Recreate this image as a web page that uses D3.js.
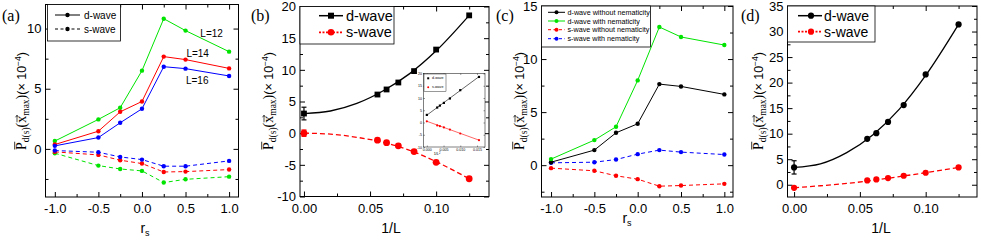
<!DOCTYPE html>
<html>
<head>
<meta charset="utf-8">
<script src="https://cdn.jsdelivr.net/npm/d3@7"></script>
<style>
body { margin: 0; background: #fff; }
svg text { font-family: "Liberation Sans", Arial, sans-serif; fill: #000; }
svg .serif { font-family: "Liberation Serif", "Times New Roman", serif; }
.axis text { font-size: 13px; }
.inset .axis text { font-size: 3.6px; }
</style>
</head>
<body>
<svg id="chart" width="981" height="244"></svg>
<script>
// ---- data ----
const rs = [-1.0, -0.5, -0.25, 0.0, 0.25, 0.5, 1.0];
const rsTicks = [-1.0, -0.5, 0.0, 0.5, 1.0];
const rsMinor = [-0.75, -0.25, 0.25, 0.75];

// (a) d-wave / s-wave vs r_s for three sizes
const aDwaveL12 = [0.65, 2.45, 3.42, 6.5, 10.82, 9.83, 8.08];
const aDwaveL14 = [0.36, 1.47, 3.08, 3.94, 7.67, 7.42, 6.69];
const aDwaveL16 = [0.25, 0.94, 2.17, 3.33, 6.83, 6.67, 6.06];
const aSwaveL12 = [-0.36, -1.39, -1.67, -1.83, -2.8, -2.53, -2.31];
const aSwaveL14 = [-0.25, -0.5, -0.94, -1.22, -1.92, -1.89, -1.72];
const aSwaveL16 = [-0.14, -0.28, -0.67, -0.89, -1.44, -1.44, -1.0];
const aSizeLabels = ["L=12", "L=14", "L=16"];
const aLabelPos = [[0.67, 9.55], [0.51, 7.89], [0.505, 5.69]];
const aYTicks = [0, 5, 10];
const aYMinor = [-2.5, 2.5, 7.5];

// (b), (d) vs 1/L
const invL = [0, 0.0556, 0.0625, 0.0714, 0.0833, 0.1, 0.125];
const invLTicks = [0, 0.05, 0.10];
const invLMinor = [0.025, 0.075, 0.125];
const bDwave = [3.1, 6.1, 6.9, 8.0, 9.8, 13.2, 18.6];
const bSwave = [0.0, -1.1, -1.5, -2.0, -2.9, -4.6, -7.2];
const bDwaveErr = 1.0;
const bSwaveErr = 0.5;
const bFitX = [0, 0.02, 0.04, 0.06, 0.08, 0.1, 0.125];
const bDwaveFit = [3.1, 3.5, 4.7, 6.7, 9.4, 13.0, 18.6];
const bSwaveFit = [0.0, -0.15, -0.65, -1.45, -2.7, -4.5, -7.2];
const bYTicks = [-10, -5, 0, 5, 10, 15, 20];
const bYMinor = [-7.5, -2.5, 2.5, 7.5, 12.5, 17.5];

// (b) inset vs 1/L^2
const invL2 = [0, 0.0031, 0.0039, 0.0051, 0.0069, 0.01, 0.0156];
const insetSwave = [0.5, -1.2, -1.5, -2.0, -2.9, -4.5, -7.2];
const insetFitX = [0, 0.0156];
const insetDwaveFit = [3.0, 18.7];
const insetSwaveFit = [0.5, -7.2];
const insetXTicks = [0, 0.005, 0.010, 0.015];
const insetYTicks = [-10, -5, 0, 5, 10, 15, 20];

// (c) with / without nematicity
const cDwaveNoNem = [0.28, 1.42, 3.05, 3.9, 7.64, 7.42, 6.67];
const cDwaveNem = [0.57, 2.36, 3.62, 7.99, 13.02, 12.08, 11.32];
const cSwaveNoNem = [-0.28, -0.53, -1.0, -1.32, -1.98, -1.92, -1.76];
const cSwaveNem = [0.22, 0.28, 0.53, 1.04, 1.42, 1.23, 1.0];
const cYTicks = [0, 5, 10, 15];
const cYMinor = [-2.5, 2.5, 7.5, 12.5];

// (d)
const dDwave = [3.4, 9.0, 10.1, 12.3, 15.6, 21.6, 31.4];
const dSwave = [-0.6, 0.85, 1.04, 1.3, 1.76, 2.35, 3.4];
const dDwaveErr = 1.3;
const dDwaveFit = [3.4, 4.1, 6.3, 9.8, 14.8, 21.4, 31.4];
const dSwaveFit = [-0.6, -0.2, 0.25, 0.85, 1.6, 2.35, 3.4];
const dYTicks = [0, 5, 10, 15, 20, 25, 30, 35];
const dYMinor = [2.5, 7.5, 12.5, 17.5, 22.5, 27.5, 32.5];

const GREEN = "#00e400", RED = "#ff0000", BLUE = "#0000ff";

const svg = d3.select('#chart');

function zip(xs, ys) { return xs.map((v, i) => [v, ys[i]]); }

function makePanel(p) {
    const g = (p.parent || svg).append('g').attr('class', p.cls || 'panel');
    const x = d3.scaleLinear().domain(p.xDomain).range([p.left, p.right]);
    const y = d3.scaleLinear().domain(p.yDomain).range([p.bottom, p.top]);
    const major = p.major || 5, minor = p.minor || 3;
    if (p.fill) {
        g.append('rect').attr('x', p.left).attr('y', p.top)
            .attr('width', p.right - p.left).attr('height', p.bottom - p.top)
            .attr('fill', '#fff');
    }
    const none = () => '';
    function axis(gen, scale, vals, size, fmt, tr, pad) {
        const a = g.append('g').attr('class', 'axis')
            .attr('transform', tr)
            .call(gen(scale).tickValues(vals).tickSize(-size)
                  .tickPadding(pad || 0).tickFormat(fmt || none));
        a.attr('font-size', null).attr('font-family', null);
        a.select('.domain').remove();
        a.selectAll('line').attr('stroke-width', p.tickWidth || 1);
    }
    const xb = `translate(0,${p.bottom})`, xt = `translate(0,${p.top})`;
    const yl = `translate(${p.left},0)`, yr = `translate(${p.right},0)`;
    axis(d3.axisBottom, x, p.xTicks, major, p.xFmt, xb, p.xPad);
    axis(d3.axisTop, x, p.xTicks, major, null, xt);
    axis(d3.axisLeft, y, p.yTicks, major, p.yFmt, yl, p.yPad);
    axis(d3.axisRight, y, p.yTicks, major, null, yr);
    if (p.xMinor) {
        axis(d3.axisBottom, x, p.xMinor, minor, null, xb);
        axis(d3.axisTop, x, p.xMinor, minor, null, xt);
    }
    if (p.yMinor) {
        axis(d3.axisLeft, y, p.yMinor, minor, null, yl);
        axis(d3.axisRight, y, p.yMinor, minor, null, yr);
    }
    g.append('rect').attr('x', p.left).attr('y', p.top)
        .attr('width', p.right - p.left).attr('height', p.bottom - p.top)
        .attr('fill', 'none').attr('stroke', '#000').attr('stroke-width', p.frameWidth || 1);
    const plot = g.append('g');
    return {g, plot, x, y};
}

function drawLine(P, pts, color, opts) {
    opts = opts || {};
    const line = d3.line().x(d => P.x(d[0])).y(d => P.y(d[1]));
    if (opts.curve) line.curve(opts.curve);
    P.plot.append('path').datum(pts)
        .attr('d', line).attr('fill', 'none')
        .attr('stroke', color).attr('stroke-width', opts.width || 1)
        .attr('stroke-dasharray', opts.dash || null);
}

function drawDots(P, pts, color, r, shape) {
    const sel = P.plot.append('g').attr('fill', color);
    if (shape === 'square') {
        sel.selectAll('rect').data(pts).join('rect')
            .attr('x', d => P.x(d[0]) - r).attr('y', d => P.y(d[1]) - r)
            .attr('width', 2 * r).attr('height', 2 * r);
    } else {
        sel.selectAll('circle').data(pts).join('circle')
            .attr('cx', d => P.x(d[0])).attr('cy', d => P.y(d[1])).attr('r', r);
    }
}

function errorBar(P, xv, yv, err, color, cap) {
    const g = P.plot.append('g').attr('stroke', color).attr('stroke-width', 1.2);
    const cx = P.x(xv);
    g.append('line').attr('x1', cx).attr('x2', cx)
        .attr('y1', P.y(yv - err)).attr('y2', P.y(yv + err));
    [yv - err, yv + err].forEach(v => {
        g.append('line').attr('x1', cx - cap).attr('x2', cx + cap)
            .attr('y1', P.y(v)).attr('y2', P.y(v));
    });
}

function legend(box, rows, o) {
    const g = svg.append('g');
    g.append('rect').attr('x', box[0]).attr('y', box[1])
        .attr('width', box[2] - box[0]).attr('height', box[3] - box[1])
        .attr('fill', '#fff').attr('stroke', '#000').attr('stroke-width', o.stroke || 0.8);
    rows.forEach((r, i) => {
        const yy = o.rowY[i];
        g.append('line').attr('x1', o.lineX[0]).attr('x2', o.lineX[1])
            .attr('y1', yy).attr('y2', yy).attr('stroke', r.color)
            .attr('stroke-width', r.width || 1).attr('stroke-dasharray', r.dash || null);
        if (r.shape === 'square') {
            g.append('rect').attr('x', o.markX - r.r).attr('y', yy - r.r)
                .attr('width', 2 * r.r).attr('height', 2 * r.r).attr('fill', r.color);
        } else {
            g.append('circle').attr('cx', o.markX).attr('cy', yy).attr('r', r.r).attr('fill', r.color);
        }
        g.append('text').attr('x', o.textX).attr('y', yy)
            .attr('dominant-baseline', 'central')
            .attr('font-size', o.fontSize).text(r.label);
    });
}

// P-bar_{d(s)}(x-arrow_{max})(x 10^-4), bar and arrow drawn as strokes
function yTitle(cx, cy) {
    const g = svg.append('g').attr('transform', `translate(${cx},${cy}) rotate(-90)`);
    const t = g.append('text').attr('text-anchor', 'middle');
    t.append('tspan').attr('class', 'serif').attr('font-size', 14).text('P');
    t.append('tspan').attr('class', 'serif').attr('font-size', 9.5).attr('dy', 3).text('d(s)');
    t.append('tspan').attr('class', 'serif').attr('font-size', 14).attr('dy', -3).text('(x');
    t.append('tspan').attr('class', 'serif').attr('font-size', 9.5).attr('dy', 3).text('max');
    t.append('tspan').attr('class', 'serif').attr('font-size', 14).attr('dy', -3).text(')');
    t.append('tspan').attr('font-size', 12.5).text('(\u00D7 10');
    t.append('tspan').attr('font-size', 8.5).attr('dy', -5).text('\u22124');
    t.append('tspan').attr('font-size', 12.5).attr('dy', 5).text(')');
    const node = t.node();
    const eP = node.getExtentOfChar(0);
    const eX = node.getExtentOfChar(6);
    g.append('line').attr('x1', eP.x + 0.5).attr('x2', eP.x + eP.width + 0.5)
        .attr('y1', -11.3).attr('y2', -11.3).attr('stroke', '#000').attr('stroke-width', 0.8);
    const ax1 = eX.x + 0.5, ax2 = eX.x + eX.width + 0.5, ay = -9;
    g.append('path')
        .attr('d', `M${ax1},${ay}L${ax2},${ay}M${ax2 - 2},${ay - 1.5}L${ax2},${ay}L${ax2 - 2},${ay + 1.5}`)
        .attr('fill', 'none').attr('stroke', '#000').attr('stroke-width', 0.7);
}

function xTitle(cx, cy, main, sub) {
    const t = svg.append('text').attr('x', cx).attr('y', cy)
        .attr('text-anchor', 'middle').attr('font-size', 14);
    t.append('tspan').text(main);
    if (sub) t.append('tspan').attr('font-size', 9).attr('dy', 3).text(sub);
}

function panelLabel(x, y, s) {
    svg.append('text').attr('class', 'serif').attr('x', x).attr('y', y)
        .attr('font-size', 16).text(s);
}

const f1 = d => d.toFixed(1), f2 = d => d.toFixed(2), f0 = d => String(d);

// ---------------- (a) ----------------
const A = makePanel({left: 45.5, right: 238.5, top: 4.5, bottom: 197,
    xDomain: [-1.107, 1.108], yDomain: [-4, 12],
    xTicks: rsTicks, xMinor: rsMinor, yTicks: aYTicks, yMinor: aYMinor,
    xFmt: f1, yFmt: f0, xPad: 7, yPad: 4});
[[aSwaveL12, GREEN], [aSwaveL14, RED], [aSwaveL16, BLUE]].forEach(([v, c]) => {
    drawLine(A, zip(rs, v), c, {dash: '4,3'});
    drawDots(A, zip(rs, v), c, 2.2);
});
[[aDwaveL12, GREEN], [aDwaveL14, RED], [aDwaveL16, BLUE]].forEach(([v, c]) => {
    drawLine(A, zip(rs, v), c);
    drawDots(A, zip(rs, v), c, 2.2);
});
aSizeLabels.forEach((s, i) => {
    A.plot.append('text').attr('x', A.x(aLabelPos[i][0])).attr('y', A.y(aLabelPos[i][1]))
        .attr('dominant-baseline', 'central').attr('font-size', 10).text(s);
});
legend([47.5, 4.5, 120.5, 41], [
    {label: 'd-wave', color: '#000', r: 2.2},
    {label: 's-wave', color: '#000', r: 2.2, dash: '3,2.5'}
], {rowY: [15, 29], lineX: [55, 80], markX: 67.5, textX: 84, fontSize: 10});
yTitle(26, 101);
xTitle(145, 233, 'r', 's');
panelLabel(2, 21, '(a)');

// ---------------- (b) ----------------
const B = makePanel({left: 300, right: 489, top: 6.5, bottom: 196.5,
    xDomain: [-0.003, 0.14], yDomain: [-10, 20],
    xTicks: invLTicks, xMinor: invLMinor, yTicks: bYTicks, yMinor: bYMinor,
    xFmt: f2, yFmt: f0, xPad: 7, yPad: 4});
drawLine(B, zip(bFitX, bDwaveFit), '#000', {width: 1.3, curve: d3.curveMonotoneX});
drawLine(B, zip(bFitX, bSwaveFit), RED, {width: 1.3, dash: '5,3', curve: d3.curveMonotoneX});
errorBar(B, invL[0], bDwave[0], bDwaveErr, '#000', 2.5);
errorBar(B, invL[0], bSwave[0], bSwaveErr, RED, 2.5);
drawDots(B, zip(invL, bDwave), '#000', 2.9, 'square');
drawDots(B, zip(invL, bSwave), RED, 3.4);
legend([300, 6.5, 394, 44], [
    {label: 'd-wave', color: '#000', r: 3, shape: 'square', width: 1.5},
    {label: 's-wave', color: RED, r: 3.3, dash: '2,1.5', width: 1.8}
], {rowY: [15.7, 32.3], lineX: [319, 343], markX: 331, textX: 346, fontSize: 14.5});

// inset
const I = makePanel({parent: svg, cls: 'inset', left: 423.5, right: 485, top: 73.5, bottom: 147,
    xDomain: [-0.001, 0.0174], yDomain: [-10, 20], fill: true,
    xTicks: insetXTicks, yTicks: insetYTicks, xFmt: d => d.toFixed(3), yFmt: f0,
    major: 1.5, xPad: 1.5, yPad: 1.5, tickWidth: 0.4, frameWidth: 0.5});
drawLine(I, zip(insetFitX, insetDwaveFit), '#000', {width: 0.6});
drawLine(I, zip(insetFitX, insetSwaveFit), RED, {width: 0.6});
drawDots(I, zip(invL2, bDwave), '#000', 1.1, 'square');
drawDots(I, zip(invL2, insetSwave), RED, 1.1);
(function () {
    const g = svg.append('g');
    g.append('rect').attr('x', 424).attr('y', 74).attr('width', 22).attr('height', 17.5)
        .attr('fill', '#fff').attr('stroke', '#000').attr('stroke-width', 0.4);
    [['d-wave', '#000', 78.3], ['s-wave', RED, 87.3]].forEach(([s, c, yy], i) => {
        if (i === 0) g.append('rect').attr('x', 427.2).attr('y', yy - 1).attr('width', 2).attr('height', 2).attr('fill', c);
        else g.append('circle').attr('cx', 428.2).attr('cy', yy).attr('r', 1).attr('fill', c);
        g.append('text').attr('x', 432).attr('y', yy).attr('dominant-baseline', 'central')
            .attr('font-size', 3.6).text(s);
    });
    const t = g.append('text').attr('x', 437).attr('y', 155).attr('font-size', 3.8)
        .attr('text-anchor', 'middle');
    t.append('tspan').text('1/L');
    t.append('tspan').attr('font-size', 2.6).attr('dy', -1.5).text('2');
})();
yTitle(273, 101);
xTitle(391, 233, '1/L');
panelLabel(251, 21, '(b)');

// ---------------- (c) ----------------
const C = makePanel({left: 541.5, right: 733, top: 6, bottom: 197,
    xDomain: [-1.11, 1.10], yDomain: [-3, 15],
    xTicks: rsTicks, xMinor: rsMinor, yTicks: cYTicks, yMinor: cYMinor,
    xFmt: f1, yFmt: f0, xPad: 7, yPad: 4});
[[cSwaveNoNem, RED], [cSwaveNem, BLUE]].forEach(([v, c]) => {
    drawLine(C, zip(rs, v), c, {dash: '4,3'});
    drawDots(C, zip(rs, v), c, 2.2);
});
[[cDwaveNoNem, '#000'], [cDwaveNem, GREEN]].forEach(([v, c]) => {
    drawLine(C, zip(rs, v), c);
    drawDots(C, zip(rs, v), c, 2.2);
});
legend([541.5, 6, 650.5, 47], [
    {label: 'd-wave without nematicity', color: '#000', r: 2},
    {label: 'd-wave with nematicity', color: GREEN, r: 2},
    {label: 's-wave without nematicity', color: RED, r: 2, dash: '3,2.5'},
    {label: 's-wave with nematicity', color: BLUE, r: 2, dash: '3,2.5'}
], {rowY: [12.3, 21, 29.7, 38.7], lineX: [548, 565], markX: 556.5, textX: 567.5, fontSize: 7.2});
yTitle(524, 101);
xTitle(627, 223, 'r', 's');
panelLabel(496, 21, '(c)');

// ---------------- (d) ----------------
const D = makePanel({left: 787.5, right: 977, top: 6, bottom: 197,
    xDomain: [-0.005, 0.139], yDomain: [-2.4, 35],
    xTicks: invLTicks, xMinor: invLMinor, yTicks: dYTicks, yMinor: dYMinor,
    xFmt: f2, yFmt: f0, xPad: 7, yPad: 4});
drawLine(D, zip(bFitX, dDwaveFit), '#000', {width: 1.3, curve: d3.curveMonotoneX});
drawLine(D, zip(bFitX, dSwaveFit), RED, {width: 1.3, dash: '5,3', curve: d3.curveMonotoneX});
errorBar(D, invL[0], dDwave[0], dDwaveErr, '#000', 2.5);
drawDots(D, zip(invL, dDwave), '#000', 3.1);
drawDots(D, zip(invL, dSwave), RED, 3.1);
legend([787.5, 6, 875, 42], [
    {label: 'd-wave', color: '#000', r: 3.1, width: 1.5},
    {label: 's-wave', color: RED, r: 3.1, dash: '2,1.5', width: 1.8}
], {rowY: [15.7, 31.7], lineX: [798, 822], markX: 811, textX: 824, fontSize: 14});
yTitle(763, 101);
xTitle(881, 233, '1/L');
panelLabel(741, 21, '(d)');
</script>
</body>
</html>
